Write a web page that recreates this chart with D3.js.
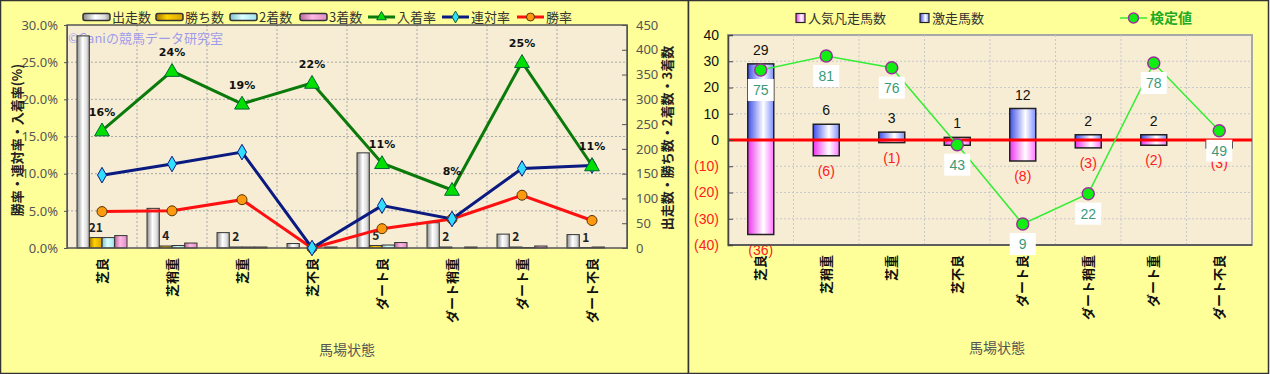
<!DOCTYPE html>
<html>
<head>
<meta charset="utf-8">
<script src="https://cdn.jsdelivr.net/npm/d3@7"></script>
<style>
  body { margin: 0; background: #fff; }
  text { font-family: "Noto Sans CJK JP", "Noto Sans", sans-serif; }
</style>
</head>
<body>
<div id="chart"></div>
<script>
// ---- data ----
const conditions = ["芝良", "芝稍重", "芝重", "芝不良", "ダート良", "ダート稍重", "ダート重", "ダート不良"];

// left chart: counts (right axis) and rates in % (left axis)
const runners = [428, 80, 31, 9, 192, 51, 28, 27];
const wins = [21, 4, 2, 0, 5, 2, 2, 1];
const seconds = [21, 5, 2, 0, 6, 0, 1, 2];
const thirds = [25, 10, 2, 2, 11, 2, 4, 0];
const placeRate = [15.8, 23.8, 19.4, 22.2, 11.4, 7.8, 25.0, 11.1];
const top2Rate = [9.8, 11.3, 12.9, 0, 5.7, 3.9, 10.7, 11.1];
const winRate = [4.9, 5.0, 6.5, 0, 2.6, 3.9, 7.1, 3.7];
const pctTicks = [0, 5, 10, 15, 20, 25, 30];
const countTicks = [0, 50, 100, 150, 200, 250, 300, 350, 400, 450];

// right chart
const surgeCounts = [29, 6, 3, 1, 12, 2, 2, 0];
const flopCounts = [36, 6, 1, 2, 8, 3, 2, 3];
const testValues = [75, 81, 76, 43, 9, 22, 78, 49];
const diffTicks = [-40, -30, -20, -10, 0, 10, 20, 30, 40];

const svg = d3.select("#chart").append("svg")
  .attr("width", 1270)
  .attr("height", 374);

const defs = svg.append("defs");
function hGrad(id, stops) {
  const g = defs.append("linearGradient").attr("id", id)
    .attr("x1", "0%").attr("x2", "100%").attr("y1", "0%").attr("y2", "0%");
  stops.forEach(s => g.append("stop").attr("offset", s[0]).attr("stop-color", s[1]));
}
hGrad("gRun", [["0%", "#8a8a8a"], ["45%", "#ffffff"], ["80%", "#dcdcdc"], ["100%", "#9a9a9a"]]);
hGrad("gWin", [["0%", "#a87800"], ["40%", "#ffd200"], ["100%", "#d9a400"]]);
hGrad("g2nd", [["0%", "#7fc4cc"], ["45%", "#dcffff"], ["100%", "#9fe3ec"]]);
hGrad("g3rd", [["0%", "#b86a9c"], ["45%", "#ffb8e4"], ["100%", "#e28cc6"]]);
hGrad("gSurge", [["0%", "#3f4fe8"], ["60%", "#ffffff"], ["100%", "#8090ff"]]);
hGrad("gFlop", [["0%", "#ee33ee"], ["60%", "#ffffff"], ["100%", "#ff77ff"]]);

// ---- panels ----
svg.append("rect").attr("x", 0.5).attr("y", 0.5).attr("width", 688).attr("height", 373)
  .attr("fill", "#ffff99").attr("stroke", "#333").attr("stroke-width", 1.5);
svg.append("rect").attr("x", 688.5).attr("y", 0.5).attr("width", 580).attr("height", 373)
  .attr("fill", "#ffff99").attr("stroke", "#333").attr("stroke-width", 1.5);

// =============== LEFT CHART ===============
const L = svg.append("g");
const x0 = d3.scaleBand().domain(conditions).range([67, 627]);
const seriesKeys = ["run", "win", "2nd", "3rd"];
const xs = d3.scaleBand().domain(seriesKeys).range([10, 60]).paddingInner(0.02);
const yPct = d3.scaleLinear().domain([0, 30]).range([248, 25]);
const yCnt = d3.scaleLinear().domain([0, 450]).range([248, 25]);

L.append("rect").attr("x", 67).attr("y", 25).attr("width", 560).attr("height", 223)
  .attr("fill", "#f7edd5");

// grid
L.append("g").selectAll("line").data(pctTicks.filter(d => d > 0 && d < 30)).join("line")
  .attr("x1", 67).attr("x2", 627).attr("y1", d => yPct(d)).attr("y2", d => yPct(d))
  .attr("stroke", "#a8a8a8").attr("stroke-dasharray", "2,2");
L.append("g").selectAll("line").data(conditions.slice(1)).join("line")
  .attr("x1", d => x0(d)).attr("x2", d => x0(d)).attr("y1", 25).attr("y2", 248)
  .attr("stroke", "#a8a8a8").attr("stroke-dasharray", "2,2");

// watermark
L.append("text").attr("x", 68).attr("y", 43).attr("font-size", 13)
  .attr("fill", "#8c8cf0").attr("fill-opacity", 0.85).text("©Caniの競馬データ研究室");

// bars
const barSeries = [
  { key: "run", values: runners, fill: "url(#gRun)" },
  { key: "win", values: wins, fill: "url(#gWin)" },
  { key: "2nd", values: seconds, fill: "url(#g2nd)" },
  { key: "3rd", values: thirds, fill: "url(#g3rd)" }
];
barSeries.forEach(s => {
  L.append("g").selectAll("rect").data(s.values).join("rect")
    .attr("x", (d, i) => x0(conditions[i]) + xs(s.key))
    .attr("y", d => yCnt(d))
    .attr("width", xs.bandwidth())
    .attr("height", d => yCnt(0) - yCnt(d))
    .attr("fill", s.fill)
    .attr("stroke", "#333")
    .attr("stroke-width", 1);
});
// win count labels
L.append("g").selectAll("text").data(wins).join("text")
  .attr("x", (d, i) => x0(conditions[i]) + xs("win") + xs.bandwidth() / 2)
  .attr("y", d => yCnt(d) - 6)
  .attr("text-anchor", "middle").attr("font-size", 12).attr("font-weight", "bold")
  .attr("fill", "#222")
  .text(d => d > 0 ? d : "");

// plot frame
L.append("rect").attr("x", 67).attr("y", 25).attr("width", 560).attr("height", 223)
  .attr("fill", "none").attr("stroke", "#555").attr("stroke-width", 1.5);

// axes
const axL = L.append("g").attr("transform", "translate(67,0)")
  .call(d3.axisLeft(yPct).tickValues(pctTicks).tickFormat(d => d.toFixed(1) + "%").tickSize(3).tickPadding(6));
const axR = L.append("g").attr("transform", "translate(627,0)")
  .call(d3.axisRight(yCnt).tickValues(countTicks).tickSize(-5).tickPadding(9));
[axL, axR].forEach(a => {
  a.select(".domain").attr("stroke", "#555");
  a.selectAll(".tick line").attr("stroke", "#555");
  a.selectAll("text").attr("font-size", 13).attr("fill", "#555")
    .style("font-family", "'Noto Sans', sans-serif");
});
const axB = L.append("g").attr("transform", "translate(0,248)")
  .call(d3.axisBottom(x0).tickSize(0));
axB.select(".domain").remove();
axB.selectAll("text")
  .attr("transform", "rotate(-90)")
  .attr("x", -10).attr("y", 0).attr("dy", "0.35em")
  .style("text-anchor", "end")
  .attr("font-size", 13).attr("font-weight", "bold").attr("fill", "#111")
  .style("font-family", "'Noto Sans CJK JP', sans-serif");

// axis titles
L.append("text").attr("transform", "translate(22,140) rotate(-90)")
  .attr("text-anchor", "middle").attr("font-size", 13).attr("font-weight", "bold").attr("fill", "#222")
  .text("勝率・連対率・入着率(%)");
L.append("text").attr("transform", "translate(672,138) rotate(-90)")
  .attr("text-anchor", "middle").attr("font-size", 13).attr("font-weight", "bold").attr("fill", "#222")
  .text("出走数・勝ち数・2着数・3着数");
L.append("text").attr("x", 347).attr("y", 355).attr("text-anchor", "middle")
  .attr("font-size", 14).attr("fill", "#555").text("馬場状態");

// lines
const cx = i => x0(conditions[i]) + x0.bandwidth() / 2;
const rateSeries = [
  { values: placeRate, color: "#0a7a0a", mark: "triangle", fill: "#00e000" },
  { values: top2Rate, color: "#0a1a80", mark: "diamond", fill: "#33ddff" },
  { values: winRate, color: "#ff1010", mark: "circle", fill: "#ff9a10" }
];
const symTri = d3.symbol(d3.symbolTriangle, 95);
const symDia = d3.symbol(d3.symbolDiamond, 70);
rateSeries.slice().reverse().forEach(s => {
  L.append("path").datum(s.values)
    .attr("d", d3.line().x((d, i) => cx(i)).y(d => yPct(d)))
    .attr("fill", "none").attr("stroke", s.color).attr("stroke-width", 3);
});
rateSeries.slice().reverse().forEach(s => {
  const g = L.append("g");
  if (s.mark === "circle") {
    g.selectAll("circle").data(s.values).join("circle")
      .attr("cx", (d, i) => cx(i)).attr("cy", d => yPct(d)).attr("r", 5)
      .attr("fill", s.fill).attr("stroke", "#553300").attr("stroke-width", 1);
  } else {
    g.selectAll("path").data(s.values).join("path")
      .attr("transform", (d, i) => `translate(${cx(i)},${yPct(d) + (s.mark === "triangle" ? 1 : 0)})`)
      .attr("d", s.mark === "triangle" ? symTri : symDia)
      .attr("fill", s.fill).attr("stroke", s.mark === "triangle" ? "#063" : "#0a1a80").attr("stroke-width", 1);
  }
});
// place rate labels
L.append("g").selectAll("text").data(placeRate).join("text")
  .attr("x", (d, i) => cx(i)).attr("y", d => yPct(d) - 15)
  .attr("text-anchor", "middle").attr("font-size", 11).attr("font-weight", "bold").attr("fill", "#111")
  .style("font-family", "'DejaVu Sans', sans-serif")
  .text(d => Math.round(d) + "%");

// legend
const legL = L.append("g").attr("transform", "translate(0,17)");
const legBars = [
  { label: "出走数", fill: "url(#gRun)", x: 83 },
  { label: "勝ち数", fill: "url(#gWin)", x: 156 },
  { label: "2着数", fill: "url(#g2nd)", x: 230 },
  { label: "3着数", fill: "url(#g3rd)", x: 300 }
];
legBars.forEach(b => {
  legL.append("rect").attr("x", b.x).attr("y", -3.5).attr("width", 27).attr("height", 7).attr("rx", 2)
    .attr("fill", b.fill).attr("stroke", "#333").attr("stroke-width", 1.5);
  legL.append("text").attr("x", b.x + 29).attr("y", 0).attr("dy", "0.35em")
    .attr("font-size", 13).attr("fill", "#333").text(b.label);
});
const legLines = [
  { label: "入着率", s: rateSeries[0], x: 368 },
  { label: "連対率", s: rateSeries[1], x: 442 },
  { label: "勝率", s: rateSeries[2], x: 517 }
];
legLines.forEach(b => {
  legL.append("line").attr("x1", b.x).attr("x2", b.x + 27).attr("y1", 0).attr("y2", 0)
    .attr("stroke", b.s.color).attr("stroke-width", 3);
  if (b.s.mark === "circle") {
    legL.append("circle").attr("cx", b.x + 13.5).attr("cy", 0).attr("r", 4)
      .attr("fill", b.s.fill).attr("stroke", "#553300");
  } else {
    legL.append("path").attr("transform", `translate(${b.x + 13.5},0)`)
      .attr("d", d3.symbol(b.s.mark === "triangle" ? d3.symbolTriangle : d3.symbolDiamond, 40))
      .attr("fill", b.s.fill).attr("stroke", "#063");
  }
  legL.append("text").attr("x", b.x + 29).attr("y", 0).attr("dy", "0.35em")
    .attr("font-size", 13).attr("fill", "#333").text(b.label);
});

// =============== RIGHT CHART ===============
const R = svg.append("g");
const xr = d3.scaleBand().domain(conditions).range([728, 1252]);
const yr = d3.scaleLinear().domain([-40, 40]).range([245, 35]);
const yt = d3.scaleLinear().domain([0, 90]).range([245, 35]);
const barW = 26;

R.append("rect").attr("x", 728).attr("y", 35).attr("width", 524).attr("height", 210)
  .attr("fill", "#f7edd5").attr("stroke", "#a8a8a8").attr("stroke-width", 2);

R.append("g").selectAll("line").data(diffTicks.filter(d => d > -40 && d < 40 && d !== 0)).join("line")
  .attr("x1", 728).attr("x2", 1252).attr("y1", d => yr(d)).attr("y2", d => yr(d))
  .attr("stroke", "#c8c8c8").attr("stroke-dasharray", "2,2");
R.append("g").selectAll("line").data(conditions.slice(1)).join("line")
  .attr("x1", d => xr(d)).attr("x2", d => xr(d)).attr("y1", 35).attr("y2", 245)
  .attr("stroke", "#c8c8c8").attr("stroke-dasharray", "2,2");

const bx = i => xr(conditions[i]) + xr.bandwidth() / 2 - barW / 2;
R.append("g").selectAll("rect").data(surgeCounts).join("rect")
  .attr("x", (d, i) => bx(i)).attr("y", d => yr(d))
  .attr("width", barW).attr("height", d => yr(0) - yr(d))
  .attr("fill", "url(#gSurge)").attr("stroke", "#222").attr("stroke-width", 1.5);
R.append("g").selectAll("rect").data(flopCounts).join("rect")
  .attr("x", (d, i) => bx(i)).attr("y", yr(0))
  .attr("width", barW).attr("height", d => yr(-d) - yr(0))
  .attr("fill", "url(#gFlop)").attr("stroke", "#222").attr("stroke-width", 1.5);

// zero line
R.append("line").attr("x1", 728).attr("x2", 1252).attr("y1", yr(0)).attr("y2", yr(0))
  .attr("stroke", "#ff0000").attr("stroke-width", 3);

// bar labels
const rcx = i => xr(conditions[i]) + xr.bandwidth() / 2;
R.append("g").selectAll("text").data(surgeCounts).join("text")
  .attr("x", (d, i) => rcx(i)).attr("y", d => yr(d) - 9)
  .attr("text-anchor", "middle").attr("font-size", 14).attr("fill", "#111")
  .style("font-family", "'Liberation Sans', sans-serif")
  .text(d => d > 0 ? d : "");
R.append("g").selectAll("text").data(flopCounts).join("text")
  .attr("x", (d, i) => rcx(i)).attr("y", d => yr(-d) + 20)
  .attr("text-anchor", "middle").attr("font-size", 14).attr("fill", "#ff2020")
  .style("font-family", "'Liberation Sans', sans-serif")
  .text(d => d > 0 ? `(${d})` : "");

// axis
const ayR = R.append("g").attr("transform", "translate(728,0)")
  .call(d3.axisLeft(yr).tickValues(diffTicks).tickSize(-5).tickPadding(9)
    .tickFormat(d => d < 0 ? `(${-d})` : d));
ayR.select(".domain").attr("stroke", "#444").attr("stroke-width", 1.5);
ayR.selectAll(".tick line").attr("stroke", "#444");
ayR.selectAll("text").attr("font-size", 14)
  .style("font-family", "'Liberation Sans', sans-serif")
  .attr("fill", d => d < 0 ? "#ff2020" : "#111");
R.append("line").attr("x1", 728).attr("x2", 1252).attr("y1", 245).attr("y2", 245)
  .attr("stroke", "#444").attr("stroke-width", 1.5);

const axRB = R.append("g").attr("transform", "translate(0,245)")
  .call(d3.axisBottom(xr).tickSize(0));
axRB.select(".domain").remove();
axRB.selectAll("text")
  .attr("transform", "rotate(-90)")
  .attr("x", -10).attr("y", 0).attr("dy", "0.35em")
  .style("text-anchor", "end")
  .attr("font-size", 13).attr("font-weight", "bold").attr("fill", "#111")
  .style("font-family", "'Noto Sans CJK JP', sans-serif");
R.append("text").attr("x", 997).attr("y", 353).attr("text-anchor", "middle")
  .attr("font-size", 14).attr("fill", "#555").text("馬場状態");

// test value line
R.append("path").datum(testValues)
  .attr("d", d3.line().x((d, i) => rcx(i)).y(d => yt(d)))
  .attr("fill", "none").attr("stroke", "#33ee33").attr("stroke-width", 1.5);
const tl = R.append("g").selectAll("g").data(testValues).join("g")
  .attr("transform", (d, i) => `translate(${rcx(i)},${yt(d) + 20})`);
tl.append("rect").attr("x", -13).attr("y", -11).attr("width", 26).attr("height", 22).attr("fill", "#fff");
tl.append("text").attr("text-anchor", "middle").attr("dy", "0.35em")
  .attr("font-size", 14).attr("fill", "#3a9a78")
  .style("font-family", "'Liberation Sans', sans-serif")
  .text(d => d);
R.append("g").selectAll("circle").data(testValues).join("circle")
  .attr("cx", (d, i) => rcx(i)).attr("cy", d => yt(d)).attr("r", 6)
  .attr("fill", "#11ee11").attr("stroke", "#993399").attr("stroke-width", 1.5);

// legend
const legR = R.append("g").attr("transform", "translate(0,18)");
[{ label: "人気凡走馬数", fill: "url(#gFlop)", x: 796 }, { label: "激走馬数", fill: "url(#gSurge)", x: 920 }]
  .forEach(b => {
    legR.append("rect").attr("x", b.x).attr("y", -4.5).attr("width", 9).attr("height", 9)
      .attr("fill", b.fill).attr("stroke", "#222").attr("stroke-width", 1.2);
    legR.append("text").attr("x", b.x + 12).attr("y", 0).attr("dy", "0.35em")
      .attr("font-size", 13).attr("fill", "#333").text(b.label);
  });
legR.append("line").attr("x1", 1120).attr("x2", 1147).attr("y1", 0).attr("y2", 0)
  .attr("stroke", "#33ee33").attr("stroke-width", 1.5);
legR.append("circle").attr("cx", 1133.5).attr("cy", 0).attr("r", 5)
  .attr("fill", "#11ee11").attr("stroke", "#993399").attr("stroke-width", 1.5);
legR.append("text").attr("x", 1150).attr("y", 0).attr("dy", "0.35em")
  .attr("font-size", 14).attr("font-weight", "bold").attr("fill", "#22aa22").text("検定値");
</script>
</body>
</html>
